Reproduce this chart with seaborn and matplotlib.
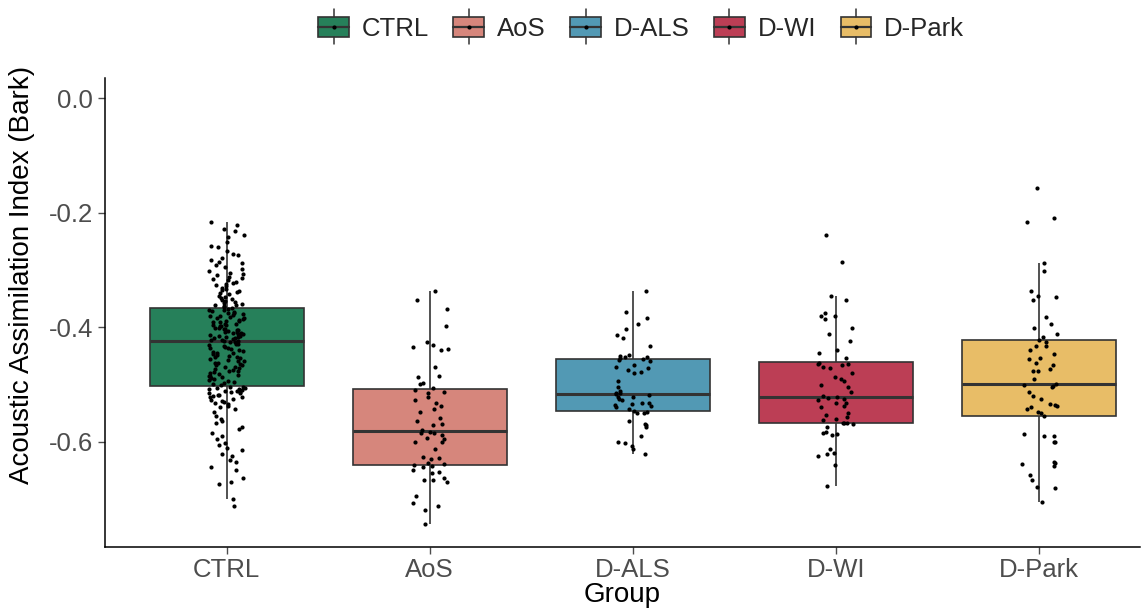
import numpy as np
import pandas as pd
import matplotlib
matplotlib.use("Agg")
import matplotlib.pyplot as plt
import seaborn as sns
from matplotlib.legend_handler import HandlerBase
from matplotlib.patches import Rectangle
from matplotlib.lines import Line2D

GROUPS = ["CTRL", "AoS", "D-ALS", "D-WI", "D-Park"]
COLORS = ["#26805A", "#D6867C", "#5299B4", "#BC3E55", "#E8BD67"]

# values (Bark)
ctrl = [
    -0.216, -0.222, -0.229, -0.232, -0.240, -0.243, -0.252, -0.258, -0.261, -0.268,
    -0.272, -0.275, -0.279, -0.283, -0.286, -0.289, -0.292, -0.296, -0.299, -0.302,
    -0.305, -0.307, -0.309, -0.312, -0.314, -0.316, -0.318, -0.321, -0.323, -0.325,
    -0.327, -0.329, -0.331, -0.333, -0.335, -0.337, -0.339, -0.341, -0.343, -0.345,
    -0.347, -0.349, -0.351, -0.353, -0.355, -0.357, -0.358, -0.360, -0.361, -0.362,
    -0.364, -0.365,
    -0.367, -0.368, -0.370, -0.371, -0.372, -0.374, -0.375, -0.376, -0.378, -0.379,
    -0.380, -0.381, -0.383, -0.384, -0.385, -0.386, -0.388, -0.389, -0.390, -0.391,
    -0.392, -0.394, -0.395, -0.396, -0.397, -0.398, -0.399, -0.401, -0.402, -0.403,
    -0.404, -0.405, -0.406, -0.407, -0.408, -0.409, -0.410, -0.411, -0.412, -0.413,
    -0.414, -0.415, -0.416, -0.417, -0.418, -0.419, -0.420, -0.421, -0.422, -0.423,
    -0.424, -0.424,
    -0.426, -0.427, -0.429, -0.430, -0.432, -0.433, -0.435, -0.436, -0.437, -0.439,
    -0.440, -0.442, -0.443, -0.445, -0.446, -0.447, -0.449, -0.450, -0.452, -0.453,
    -0.455, -0.456, -0.457, -0.459, -0.460, -0.462, -0.463, -0.465, -0.466, -0.467,
    -0.469, -0.470, -0.472, -0.473, -0.475, -0.476, -0.477, -0.479, -0.480, -0.482,
    -0.483, -0.485, -0.486, -0.487, -0.489, -0.490, -0.492, -0.494, -0.496, -0.498,
    -0.500, -0.502,
    -0.504, -0.505, -0.506, -0.507, -0.508, -0.509, -0.510, -0.511, -0.512, -0.513,
    -0.514, -0.515, -0.516, -0.518, -0.519, -0.520, -0.522, -0.523, -0.525, -0.527,
    -0.529, -0.531, -0.533, -0.535, -0.538, -0.540, -0.543, -0.548, -0.556, -0.560,
    -0.565, -0.568, -0.574, -0.578, -0.585, -0.590, -0.595, -0.603, -0.606, -0.612,
    -0.615, -0.622, -0.625, -0.632, -0.636, -0.644, -0.650, -0.663, -0.671, -0.675,
    -0.700, -0.713,
]

aos = [
    -0.337, -0.352, -0.369, -0.399, -0.427, -0.431, -0.435, -0.438, -0.440, -0.469,
    -0.486, -0.488, -0.497, -0.499, -0.507, -0.510, -0.513, -0.515, -0.523, -0.528,
    -0.533, -0.538, -0.543, -0.548, -0.559, -0.564, -0.569, -0.571, -0.580, -0.584,
    -0.585, -0.586, -0.589, -0.594, -0.595, -0.600, -0.600, -0.613, -0.627, -0.628,
    -0.631, -0.638, -0.640, -0.641, -0.642, -0.645, -0.650, -0.653, -0.655, -0.664,
    -0.667, -0.668, -0.670, -0.695, -0.708, -0.712, -0.720, -0.744,
]

dals = [
    -0.337, -0.373, -0.384, -0.394, -0.404, -0.414, -0.420, -0.433, -0.449, -0.451,
    -0.452, -0.453, -0.455, -0.456, -0.458, -0.459, -0.466, -0.469, -0.472, -0.475,
    -0.478, -0.480, -0.494, -0.505, -0.512, -0.515, -0.516, -0.517, -0.519, -0.522,
    -0.523, -0.526, -0.528, -0.532, -0.533, -0.534, -0.536, -0.538, -0.540, -0.544,
    -0.547, -0.549, -0.550, -0.551, -0.564, -0.569, -0.571, -0.574, -0.590, -0.600,
    -0.603, -0.608, -0.613, -0.622,
]

dwi = [
    -0.239, -0.286, -0.346, -0.353, -0.376, -0.381, -0.381, -0.386, -0.401, -0.412,
    -0.424, -0.440, -0.445, -0.455, -0.463, -0.464, -0.465, -0.467, -0.469, -0.472,
    -0.481, -0.487, -0.491, -0.495, -0.502, -0.504, -0.514, -0.521, -0.523, -0.524,
    -0.525, -0.528, -0.532, -0.533, -0.538, -0.540, -0.551, -0.554, -0.557, -0.561,
    -0.562, -0.567, -0.568, -0.568, -0.569, -0.574, -0.583, -0.586, -0.587, -0.589,
    -0.613, -0.620, -0.621, -0.625, -0.641, -0.677,
]

dpark = [
    -0.157, -0.209, -0.216, -0.289, -0.303, -0.337, -0.345, -0.347, -0.353, -0.383,
    -0.394, -0.401, -0.412, -0.417, -0.423, -0.427, -0.433, -0.434, -0.440, -0.448,
    -0.455, -0.456, -0.463, -0.466, -0.474, -0.476, -0.477, -0.491, -0.499, -0.501,
    -0.503, -0.504, -0.513, -0.521, -0.525, -0.535, -0.537, -0.538, -0.540, -0.544,
    -0.548, -0.550, -0.556, -0.587, -0.590, -0.591, -0.600, -0.601, -0.636, -0.638,
    -0.639, -0.642, -0.659, -0.667, -0.680, -0.681, -0.706,
]

values = [ctrl, aos, dals, dwi, dpark]
df = pd.concat(
    [pd.DataFrame({"Group": g, "AAI": v}) for g, v in zip(GROUPS, values)],
    ignore_index=True,
)
df["Group"] = pd.Categorical(df["Group"], categories=GROUPS, ordered=True)

sns.set_theme(style="ticks")
plt.rcParams["font.family"] = ["Liberation Sans", "DejaVu Sans"]

fig = plt.figure(figsize=(11.47, 6.11), dpi=100)
ax = fig.add_axes([0.0915, 0.1047, 0.9025, 0.7676])

palette = dict(zip(GROUPS, COLORS))
sns.boxplot(
    data=df, x="Group", y="AAI", hue="Group", palette=palette, order=GROUPS,
    width=0.76, showfliers=False, showcaps=False, legend=False,
    linecolor="#333333", linewidth=1.2, saturation=1,
    whis=1.5,
    medianprops={"linewidth": 2.2, "color": "#333333"},
    whiskerprops={"linewidth": 1.2, "color": "#333333"},
    ax=ax,
)

np.random.seed(7)
sns.stripplot(
    data=df, x="Group", y="AAI", order=GROUPS, color="black",
    size=3.0, jitter=0.09, linewidth=0, ax=ax, zorder=5,
)

ax.set_xlim(-0.6, 4.5)
ax.set_ylim(-0.7843, 0.0349)
ax.set_yticks([0.0, -0.2, -0.4, -0.6])
ax.set_yticklabels(["0.0", "-0.2", "-0.4", "-0.6"])
ax.tick_params(axis="both", labelsize=18.5, colors="#4D4D4D", length=5, width=1)
ax.tick_params(axis="x", pad=3)
ax.set_xlabel("Group", fontsize=20, color="black", labelpad=0)
ax.set_ylabel("Acoustic Assimilation Index (Bark)", fontsize=20, color="black")
ax.yaxis.set_label_coords(-0.068, 0.58)
for s in ["top", "right"]:
    ax.spines[s].set_visible(False)
for s in ["left", "bottom"]:
    ax.spines[s].set_color("black")
    ax.spines[s].set_linewidth(1.1)


class BoxHandler(HandlerBase):
    def create_artists(self, legend, orig_handle, xdescent, ydescent,
                       width, height, fontsize, trans):
        x0, y0 = -xdescent, -ydescent
        fc = orig_handle.get_facecolor()
        rect = Rectangle((x0, y0), width, height, facecolor=fc,
                         edgecolor="#333333", linewidth=1.2, transform=trans)
        cx = x0 + width / 2
        med = Line2D([x0, x0 + width], [y0 + height / 2] * 2, color="#333333",
                     linewidth=1.6, transform=trans)
        w1 = Line2D([cx, cx], [y0 + height, y0 + height * 1.35], color="#333333",
                    linewidth=1.1, transform=trans)
        w2 = Line2D([cx, cx], [y0, y0 - height * 0.35], color="#333333",
                    linewidth=1.1, transform=trans)
        dot = Line2D([cx], [y0 + height / 2], marker="o", markersize=2,
                     color="black", linewidth=0, transform=trans)
        return [rect, med, w1, w2, dot]


handles = [Rectangle((0, 0), 1, 1, facecolor=c) for c in COLORS]
fig.legend(
    handles, GROUPS, loc="center", bbox_to_anchor=(0.559, 0.953), ncol=5,
    frameon=False, fontsize=18.5, handler_map={Rectangle: BoxHandler()},
    handlelength=1.2, handleheight=0.85, handletextpad=0.5, columnspacing=0.95,
)

fig.savefig("out.png", dpi=100)
